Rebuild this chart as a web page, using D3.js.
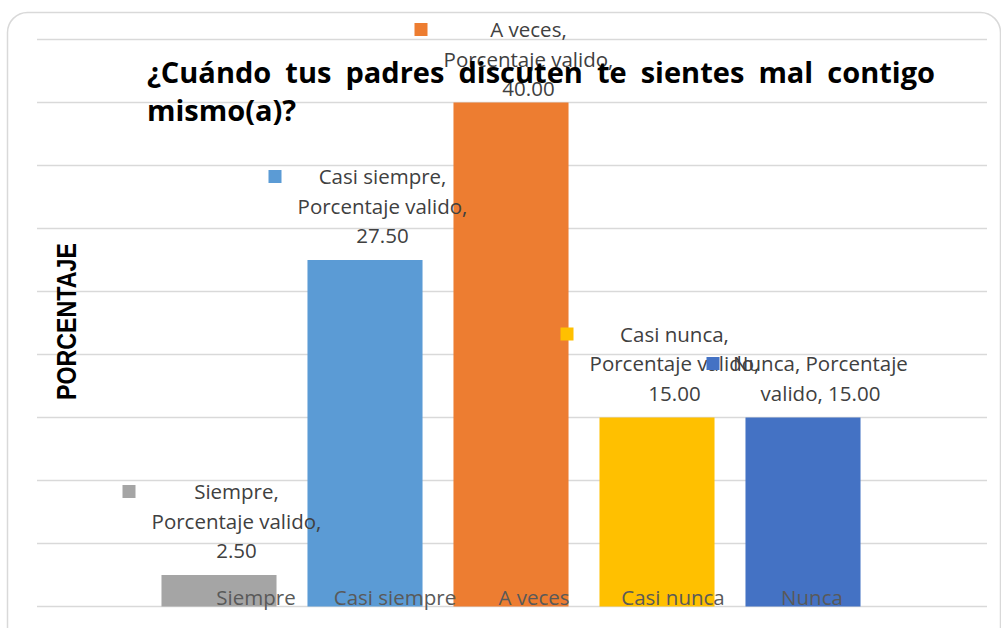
<!DOCTYPE html>
<html>
<head>
<meta charset="utf-8">
<script src="https://cdn.jsdelivr.net/npm/d3@7"></script>
<style>
  body { margin: 0; background: #fff; }
  svg { display: block; }
</style>
</head>
<body>
<svg id="chart" width="1001" height="628"></svg>
<script>
// datos del grafico
const categorias = ["Siempre", "Casi siempre", "A veces", "Casi nunca", "Nunca"];
const valores = [2.5, 27.5, 40, 15, 15];
const colores = ["#a5a5a5", "#5b9bd5", "#ed7d31", "#ffc000", "#4472c4"];
const serie = "Porcentaje valido";
const titulo = ["¿Cuándo tus padres discuten te sientes mal contigo", "mismo(a)?"];
const ejeY = "PORCENTAJE";

const fmt = d3.format(".2f");
// como se parte cada etiqueta en lineas
const etiquetas = categorias.map((c, i) => {
  if (c == "Nunca") return [c + ", Porcentaje", "valido, " + fmt(valores[i])];
  return [c + ",", serie + ",", fmt(valores[i])];
});

var svg = d3.select("#chart");

// marco redondeado
svg.append("rect")
  .attr("x", 7.5).attr("y", 12.5)
  .attr("width", 993).attr("height", 640)
  .attr("rx", 20)
  .attr("fill", "none")
  .attr("stroke", "#d9d9d9")
  .attr("stroke-width", 1.5);

var x = d3.scaleBand()
  .domain(categorias)
  .range([146, 876])
  .paddingInner(0.212)
  .paddingOuter(0.106);

var xLab = d3.scalePoint()
  .domain(categorias)
  .range([256, 812]);

var y = d3.scaleLinear()
  .domain([0, 45])
  .range([606.5, 39.5]);

// lineas de cuadricula
svg.append("g")
  .selectAll("line")
  .data(y.ticks(9))
  .join("line")
  .attr("x1", 37).attr("x2", 987)
  .attr("y1", d => y(d)).attr("y2", d => y(d))
  .attr("stroke", "#d9d9d9")
  .attr("stroke-width", 1.5);

// barras
svg.append("g")
  .selectAll("rect")
  .data(categorias)
  .join("rect")
  .attr("x", d => x(d))
  .attr("y", (d, i) => y(valores[i]))
  .attr("width", x.bandwidth())
  .attr("height", (d, i) => y(0) - y(valores[i]))
  .attr("fill", (d, i) => colores[i]);

// nombres de categoria
svg.append("g")
  .selectAll("text")
  .data(categorias)
  .join("text")
  .attr("x", d => xLab(d))
  .attr("y", 605)
  .attr("text-anchor", "middle")
  .attr("font-family", "'Open Sans', sans-serif")
  .attr("font-size", 20.5)
  .attr("fill", "#595959")
  .text(d => d);

// etiquetas de datos con clave de leyenda
const lh = 29.5;
categorias.forEach((c, i) => {
  var cx = x(c) + x.bandwidth() / 2;
  var lineas = etiquetas[i];
  var ultima = y(valores[i]) - 17;
  var primera = Math.max(ultima - lh * (lineas.length - 1), 37);
  var g = svg.append("g");
  g.append("rect")
    .attr("x", cx - 96.5)
    .attr("y", primera - 14)
    .attr("width", 13).attr("height", 13)
    .attr("fill", colores[i]);
  var t = g.append("text")
    .attr("text-anchor", "middle")
    .attr("font-family", "'Open Sans', sans-serif")
    .attr("font-size", 20.5)
    .attr("fill", "#404040");
  lineas.forEach((l, k) => {
    t.append("tspan")
      .attr("x", cx + 17.5)
      .attr("y", primera + k * lh)
      .text(l);
  });
});

// eje Y
svg.append("text")
  .attr("transform", "translate(75.5," + 321.5 + ") rotate(-90)")
  .attr("text-anchor", "middle")
  .attr("font-family", "'Liberation Sans', Arial, sans-serif")
  .attr("font-weight", "bold")
  .attr("font-size", 27)
  .attr("textLength", 157)
  .attr("lengthAdjust", "spacingAndGlyphs")
  .attr("fill", "#000")
  .text(ejeY);

// titulo justificado
var tx0 = 147, tx1 = 935;
titulo.forEach((linea, k) => {
  var t = svg.append("text")
    .attr("y", 83 + k * 38)
    .attr("font-family", "'Open Sans', sans-serif")
    .attr("font-weight", "bold")
    .attr("font-size", 29)
    .attr("fill", "#000");
  if (k == titulo.length - 1) {
    t.attr("x", tx0).text(linea);
    return;
  }
  var palabras = linea.split(" ");
  var spans = palabras.map(p => t.append("tspan").text(p));
  var anchos = spans.map(s => s.node().getComputedTextLength());
  var hueco = (tx1 - tx0 - d3.sum(anchos)) / (palabras.length - 1);
  var pos = tx0;
  spans.forEach((s, j) => {
    s.attr("x", pos);
    pos += anchos[j] + hueco;
  });
});
</script>
</body>
</html>
